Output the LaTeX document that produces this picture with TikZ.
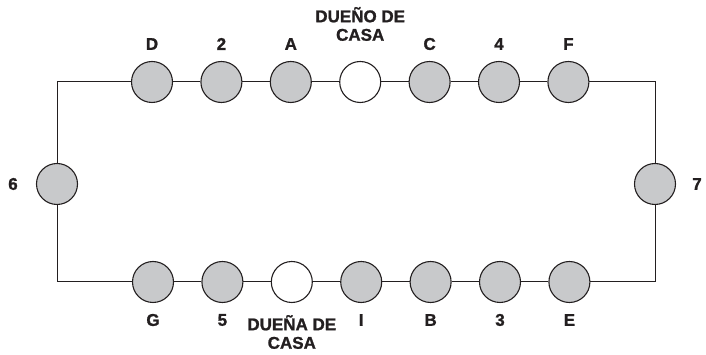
\documentclass[tikz,border=0pt]{standalone}
\usepackage{fontspec}
\setmainfont{Liberation Sans}
\newfontfamily\heavyfont{Liberation Sans Bold}[FakeBold=1.2]
\definecolor{ink}{HTML}{231F20}
\definecolor{seat}{HTML}{C8C9CB}
\begin{document}
\begin{tikzpicture}[x=1pt,y=1pt,
  person/.style={circle,draw=ink,line width=1.1pt,fill=seat,minimum size=41pt,inner sep=0pt},
  host/.style={person,fill=white},
  lbl/.style={font=\heavyfont\fontsize{17}{18.5}\selectfont,text=ink,inner sep=0pt,align=center},
  wire/.style={draw=ink,line width=1pt}]
\useasboundingbox (0,0) rectangle (706,355);
% top row
\node[person] (D) at (152,273) {};
\node[person] (n2) at (221.4,273) {};
\node[person] (A) at (290.8,273) {};
\node[host] (HO) at (360.2,273) {};
\node[person] (C) at (429.6,273) {};
\node[person] (n4) at (499,273) {};
\node[person] (F) at (568.4,273) {};
% sides
\node[person] (n6) at (57,171) {};
\node[person] (n7) at (655,171) {};
% bottom row
\node[person] (G) at (153,73) {};
\node[person] (n5) at (222.4,73) {};
\node[host] (HA) at (291.8,73) {};
\node[person] (I) at (361.2,73) {};
\node[person] (B) at (430.6,73) {};
\node[person] (n3) at (500,73) {};
\node[person] (E) at (569.4,73) {};
% corners
\coordinate (tl) at (57,273);
\coordinate (tr) at (655,273);
\coordinate (bl) at (57,73);
\coordinate (br) at (655,73);
% connectors
\path[wire] (n6) -- (tl) -- (D);
\path[wire] (D) -- (n2);
\path[wire] (n2) -- (A);
\path[wire] (A) -- (HO);
\path[wire] (HO) -- (C);
\path[wire] (C) -- (n4);
\path[wire] (n4) -- (F);
\path[wire] (F) -- (tr) -- (n7);
\path[wire] (n7) -- (br) -- (E);
\path[wire] (E) -- (n3);
\path[wire] (n3) -- (B);
\path[wire] (B) -- (I);
\path[wire] (I) -- (HA);
\path[wire] (HA) -- (n5);
\path[wire] (n5) -- (G);
\path[wire] (G) -- (bl) -- (n6);
% labels top
\node[lbl] (lD) at (152,311) {D};
\node[lbl] (l2) at (221.4,311) {2};
\node[lbl] (lA) at (290.8,311) {A};
\node[lbl] (lHO) at (360.2,331) {DUEÑO DE\\CASA};
\node[lbl] (lC) at (429.6,311) {C};
\node[lbl] (l4) at (499,311) {4};
\node[lbl] (lF) at (568.4,311) {F};
% labels sides
\node[lbl] (l6) at (13,171) {6};
\node[lbl] (l7) at (697,171) {7};
% labels bottom
\node[lbl] (lG) at (153,35) {G};
\node[lbl] (l5) at (222.4,35) {5};
\node[lbl] (lHA) at (291.8,23) {DUEÑA DE\\CASA};
\node[lbl] (lI) at (361.2,35) {I};
\node[lbl] (lB) at (430.6,35) {B};
\node[lbl] (l3) at (500,35) {3};
\node[lbl] (lE) at (569.4,35) {E};
\end{tikzpicture}
\end{document}
